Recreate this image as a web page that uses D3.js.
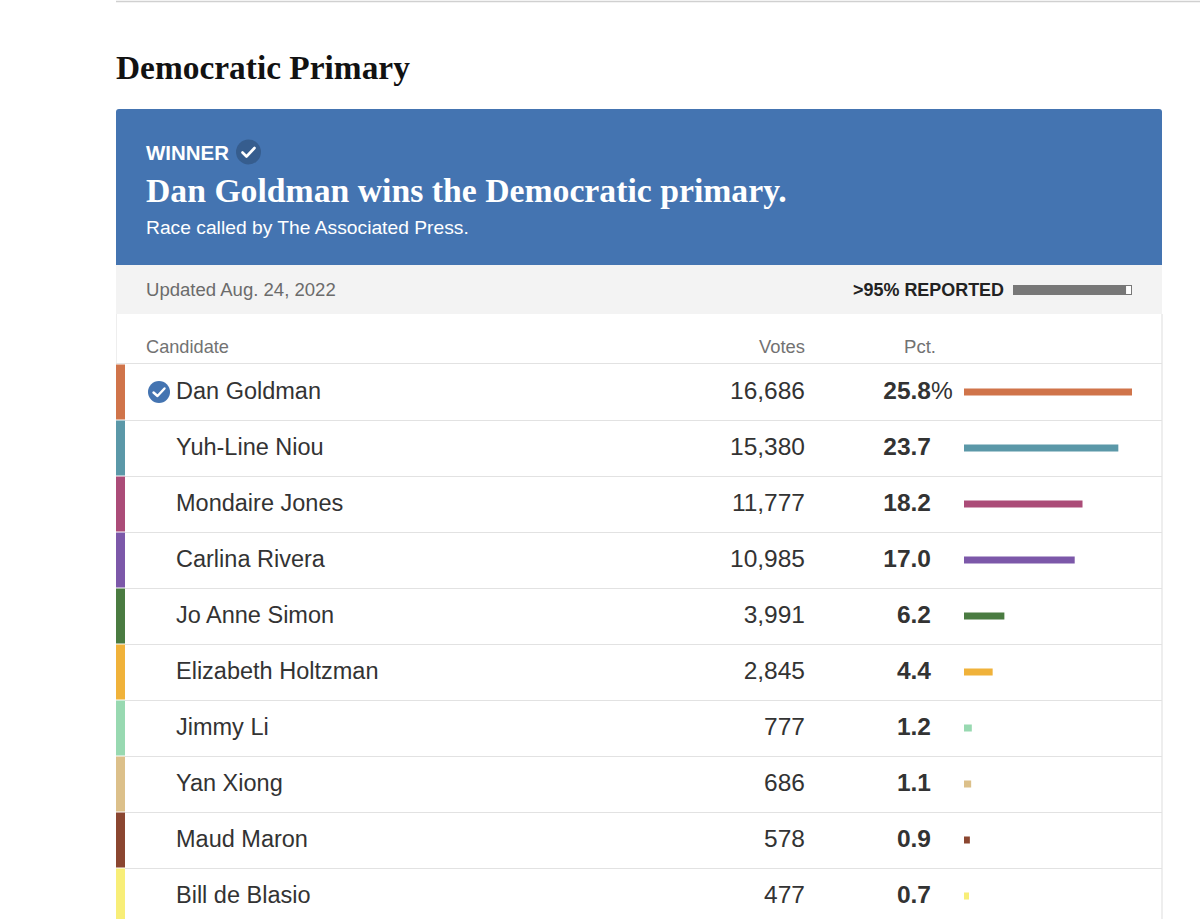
<!DOCTYPE html>
<html><head><meta charset="utf-8">
<script src="https://cdn.jsdelivr.net/npm/d3@7"></script>
<style>html,body{margin:0;padding:0;background:#fff;overflow:hidden}</style>
</head><body>
<script>
const candidates = ["Dan Goldman","Yuh-Line Niou","Mondaire Jones","Carlina Rivera","Jo Anne Simon","Elizabeth Holtzman","Jimmy Li","Yan Xiong","Maud Maron","Bill de Blasio"];
const votes = [16686,15380,11777,10985,3991,2845,777,686,578,477];
const pcts = [25.8,23.7,18.2,17.0,6.2,4.4,1.2,1.1,0.9,0.7];
const winners = [true,false,false,false,false,false,false,false,false,false];
const palette = ["#d0744a","#5b98a8","#ab4c78","#7c58a9","#4a7b41","#f0b23a","#98d9b1","#dcc08a","#8b4630","#f8ee78"];
const headers = ["Candidate","Votes","Pct."];
const titleText = "Democratic Primary";
const headline = "Dan Goldman wins the Democratic primary.";
const subline = "Race called by The Associated Press.";
const updated = "Updated Aug. 24, 2022";
const reported = ">95% REPORTED";
const reportedShare = 0.95;

const W = 1200, H = 919;
const svg = d3.select("body").append("svg").attr("width", W).attr("height", H);
const sans = "'Liberation Sans', Arial, sans-serif";
const serif = "'Liberation Serif', 'DejaVu Serif', serif";

function fit(sel, w) {
  const node = sel.node();
  const fs = parseFloat(sel.attr("font-size"));
  const cur = node.getComputedTextLength();
  sel.attr("font-size", fs * w / cur);
  return sel;
}

// top rule
svg.append("line").attr("x1",116).attr("x2",1200).attr("y1",1.5).attr("y2",1.5).attr("stroke","#d0d0d0").attr("stroke-width",1.5);

// title
fit(svg.append("text").attr("x",116).attr("y",79).attr("font-family",serif).attr("font-weight","bold")
  .attr("font-size",36).attr("fill","#121212").text(titleText), 294);

// winner banner
svg.append("rect").attr("x",116).attr("y",109).attr("width",1046).attr("height",156).attr("rx",3).attr("fill","#4474b1");
svg.append("rect").attr("x",116).attr("y",200).attr("width",1046).attr("height",65).attr("fill","#4474b1");
fit(svg.append("text").attr("x",146).attr("y",159.5).attr("font-family",sans).attr("font-weight","bold")
  .attr("font-size",21).attr("fill","#fff").text("WINNER"), 83);
svg.append("circle").attr("cx",248.5).attr("cy",152).attr("r",12.5).attr("fill","#365d8e");
svg.append("path").attr("d","M242.5,152.5 L246.5,156.5 L254.5,148").attr("fill","none").attr("stroke","#fff").attr("stroke-width",2.6).attr("stroke-linecap","round").attr("stroke-linejoin","round");
fit(svg.append("text").attr("x",146).attr("y",202).attr("font-family",serif).attr("font-weight","bold")
  .attr("font-size",34).attr("fill","#fff").text(headline), 641);
fit(svg.append("text").attr("x",146).attr("y",234).attr("font-family",sans)
  .attr("font-size",19).attr("fill","#fff").text(subline), 323);

// status band
svg.append("rect").attr("x",116).attr("y",265).attr("width",1046).attr("height",49).attr("fill","#f3f3f3");
fit(svg.append("text").attr("x",146).attr("y",296).attr("font-family",sans)
  .attr("font-size",18).attr("fill","#6b6b6b").text(updated), 190);
fit(svg.append("text").attr("x",1004).attr("y",296).attr("text-anchor","end").attr("font-family",sans).attr("font-weight","bold")
  .attr("font-size",18).attr("fill","#222").text(reported), 151);
const repX = d3.scaleLinear().domain([0,1]).range([1013,1132]);
svg.append("rect").attr("x",repX(0)+0.5).attr("y",285.5).attr("width",repX(1)-repX(0)-1).attr("height",9).attr("fill","#fff").attr("stroke","#777");
svg.append("rect").attr("x",repX(0)).attr("y",285).attr("width",repX(reportedShare)-repX(0)).attr("height",10).attr("fill","#777");

// table frame
svg.append("line").attr("x1",1162).attr("x2",1162).attr("y1",314).attr("y2",H).attr("stroke","#e8e8e8").attr("stroke-width",1.5);
svg.append("line").attr("x1",116.5).attr("x2",116.5).attr("y1",314).attr("y2",364).attr("stroke","#eeeeee");

// header
const hdrY = 352.5;
fit(svg.append("text").attr("x",146).attr("y",hdrY).attr("font-family",sans).attr("font-size",18).attr("fill","#727272").text(headers[0]), 83);
fit(svg.append("text").attr("x",805).attr("y",hdrY).attr("text-anchor","end").attr("font-family",sans).attr("font-size",18).attr("fill","#727272").text(headers[1]), 46);
fit(svg.append("text").attr("x",936).attr("y",hdrY).attr("text-anchor","end").attr("font-family",sans).attr("font-size",18).attr("fill","#727272").text(headers[2]), 32);
svg.append("line").attr("x1",116).attr("x2",1162).attr("y1",363.5).attr("y2",363.5).attr("stroke","#e2e2e2");

// rows
const y = d3.scaleBand().domain(candidates).range([364, 364 + 56*candidates.length]).paddingInner(0);
const x = d3.scaleLinear().domain([0, d3.max(pcts)]).range([0, 168]);
const fmt = d3.format(",");
const rows = svg.selectAll("g.row").data(candidates.map((c,i)=>({c, v:votes[i], p:pcts[i], w:winners[i], col:palette[i], i})))
  .join("g").attr("class","row").attr("transform", d => `translate(0,${y(d.c)})`);
const bh = y.bandwidth();
rows.append("rect").attr("x",116).attr("y",0.5).attr("width",9).attr("height",bh-1).attr("fill",d=>d.col);
rows.append("line").attr("x1",125).attr("x2",1162).attr("y1",bh+0.5).attr("y2",bh+0.5).attr("stroke","#e2e2e2");
rows.append("text").attr("x",176).attr("y",bh/2+6.8).attr("font-family",sans).attr("font-size",23.5).attr("fill","#333").text(d=>d.c);
rows.append("text").attr("x",805).attr("y",bh/2+7.3).attr("text-anchor","end").attr("font-family",sans).attr("font-size",24.5).attr("fill","#333").text(d=>fmt(d.v));
rows.append("text").attr("x",931).attr("y",bh/2+7.3).attr("text-anchor","end").attr("font-family",sans).attr("font-weight","bold").attr("font-size",24.5).attr("fill","#333").text(d=>d.p.toFixed(1));
rows.filter(d=>d.i===0).append("text").attr("x",931).attr("y",bh/2+7.3).attr("font-family",sans).attr("font-size",24.5).attr("fill","#333").text("%");
rows.append("rect").attr("x",964).attr("y",bh/2-3.5).attr("height",7).attr("width",d=>Math.max(5, x(d.p))).attr("fill",d=>d.col);
const win = rows.filter(d=>d.w);
win.append("circle").attr("cx",159).attr("cy",bh/2).attr("r",11).attr("fill","#4474b1");
win.append("path").attr("d",`M153.5,${bh/2+0.5} L157.5,${bh/2+4} L164.5,${bh/2-3.5}`).attr("fill","none").attr("stroke","#fff").attr("stroke-width",2.4).attr("stroke-linecap","round").attr("stroke-linejoin","round");
</script>
</body></html>
